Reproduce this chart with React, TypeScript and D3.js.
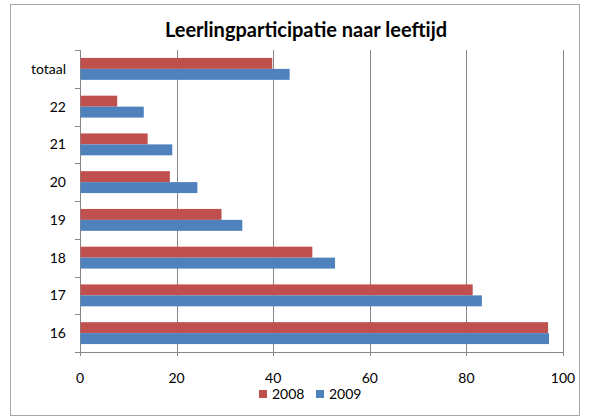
import React from 'react';
import * as d3 from 'd3';

const categories = ['totaal', '22', '21', '20', '19', '18', '17', '16'];
const series = ['2008', '2009'];
const values2008 = [39.7, 7.6, 13.9, 18.5, 29.2, 48.0, 81.2, 96.8];
const values2009 = [43.3, 13.1, 19.0, 24.2, 33.5, 52.7, 83.1, 97.0];
const xTicks = [0, 20, 40, 60, 80, 100];
const colors = ['#C0504D', '#4F81BD'];

const W = 589;
const H = 417;
const margin = { top: 50, right: 26, bottom: 65, left: 80 };
const FONT = 'Lato, "Open Sans", sans-serif';

const App: React.FC = () => {
  const innerW = W - margin.left - margin.right;
  const innerH = H - margin.top - margin.bottom;

  const x = d3.scaleLinear().domain([0, 100]).range([0, innerW]);
  const y = d3.scaleBand().domain(categories).range([0, innerH]).padding(0);
  const step = y.step();
  const ySub = d3.scaleBand().domain(series).range([step * 0.21, step * 0.79]).padding(0);

  const rows = categories.map((c, i) => ({ cat: c, vals: [values2008[i], values2009[i]] }));

  return (
    <svg width={W} height={H} style={{ position: 'absolute', left: 0, top: 0, background: '#fff' }}>
      {/* chart frame */}
      <rect x={10.5} y={4.5} width={569} height={411} fill="#fff" stroke="#a6a6a6" strokeWidth={1} />

      <text
        x={306}
        y={37}
        textAnchor="middle"
        fontFamily={FONT}
        fontWeight="bold"
        fontSize={20}
        fill="#000"
      >
        Leerlingparticipatie naar leeftijd
      </text>

      <g transform={`translate(${margin.left}, ${margin.top})`}>
        {/* gridlines */}
        {xTicks.map(t => (
          <line
            key={'g' + t}
            x1={Math.round(x(t)) + 0.5}
            x2={Math.round(x(t)) + 0.5}
            y1={0}
            y2={innerH + (t === 0 ? 0 : 4)}
            stroke="#868686"
            strokeWidth={1}
          />
        ))}
        {/* x axis */}
        <line x1={0} x2={innerW} y1={innerH + 0.5} y2={innerH + 0.5} stroke="#868686" />
        <line x1={0.5} x2={0.5} y1={innerH} y2={innerH + 4} stroke="#868686" />
        {xTicks.map(t => (
          <text
            key={'t' + t}
            x={x(t)}
            y={innerH + 31}
            textAnchor="middle"
            fontFamily={FONT}
            fontSize={14}
            fill="#000"
          >
            {t}
          </text>
        ))}

        {/* y axis ticks */}
        {d3.range(categories.length + 1).map(i => (
          <line
            key={'yt' + i}
            x1={-5}
            x2={0}
            y1={Math.round(i * step) + 0.5}
            y2={Math.round(i * step) + 0.5}
            stroke="#868686"
          />
        ))}

        {/* bars */}
        {rows.map(r => (
          <g key={r.cat} transform={`translate(0, ${y(r.cat)})`}>
            {series.map((s, j) => (
              <rect
                key={s}
                x={0.5}
                y={ySub(s)}
                width={x(r.vals[j])}
                height={ySub.bandwidth()}
                fill={colors[j]}
              />
            ))}
            <text
              x={-14}
              y={step / 2}
              dy="0.35em"
              textAnchor="end"
              fontFamily={FONT}
              fontSize={14}
              fill="#000"
            >
              {r.cat}
            </text>
          </g>
        ))}
      </g>

      {/* legend */}
      {series.map((s, j) => (
        <g key={'l' + s} transform={`translate(${259 + j * 57}, 390)`}>
          <rect x={0} y={0} width={8} height={8} fill={colors[j]} />
          <text x={13} y={8.5} fontFamily={FONT} fontSize={14} fill="#000">
            {s}
          </text>
        </g>
      ))}
    </svg>
  );
};

export default App;
